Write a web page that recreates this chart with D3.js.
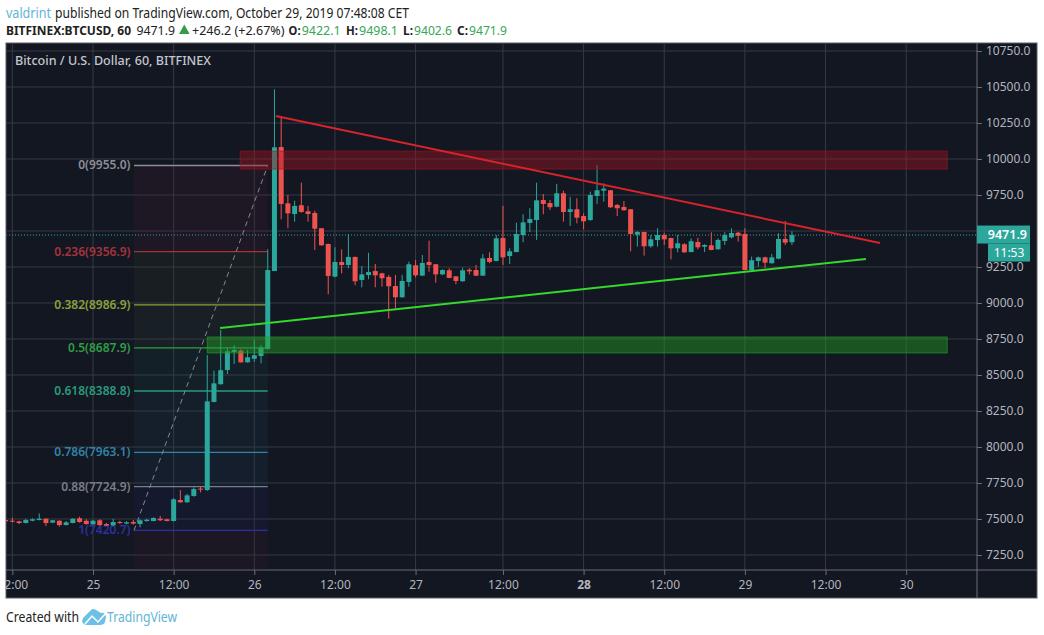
<!DOCTYPE html>
<html>
<head>
<meta charset="utf-8">
<script src="https://cdn.jsdelivr.net/npm/d3@7"></script>
<style>
  html, body { margin: 0; padding: 0; background: #fff; }
  svg { display: block; }
  text { font-family: "Noto Sans", "Open Sans", sans-serif; }
  .axis path { display: none; }
  .axis line { stroke: #6a6d78; }
  .axis text { fill: #b2b5be; font-size: 12px; }
</style>
</head>
<body>
<div id="chart"></div>
<script>
//===============================
//  Data
//===============================

// hour of each candle, counted in elapsed hours from Oct 25 00:00
var hours = d3.range(-13, 105);

var opens = [7493,7488,7484,7472,7488,7493,7502,7475,7488,7458,7472,7505,7488,7463,7491,7465,7456,7479,7468,7479,7465,7486,7486,7502,7498,7486,7632,7616,7660,7711,
  7701,8313,8436,8535,8660,8669,8588,8613,8632,8681,9222,10083,9692,9618,9679,9637,9625,9519,9410,9183,9285,9264,9320,9160,9194,9222,9206,9181,9118,9040,
  9146,9262,9190,9285,9269,9199,9227,9185,9151,9231,9229,9190,9313,9292,9451,9326,9354,9472,9556,9576,9715,9694,9669,9762,9632,9651,9604,9576,9743,9780,
  9783,9681,9667,9651,9474,9493,9394,9437,9472,9451,9380,9408,9354,9424,9391,9401,9373,9431,9456,9488,9479,9229,9292,9317,9276,9308,9445,9422.1];

var highs = [7498,7509,7488,7502,7505,7539,7505,7493,7491,7486,7505,7516,7498,7493,7498,7472,7502,7488,7486,7493,7498,7502,7512,7521,7502,7644,7701,7674,7720,7729,
  8639,8530,8813,8687,8708,8679,8674,8748,8708,9373,10484,10299,9750,9711,9835,9674,9641,9521,9412,9387,9373,9479,9322,9257,9349,9271,9210,9195,9195,9195,
  9287,9299,9333,9433,9271,9234,9241,9188,9245,9241,9264,9340,9352,9472,9674,9380,9558,9616,9658,9835,9757,9715,9826,9780,9736,9727,9623,9773,9958,9831,
  9785,9688,9708,9653,9500,9495,9472,9519,9488,9453,9472,9415,9449,9453,9408,9491,9449,9491,9519,9495,9519,9322,9322,9322,9340,9484,9570,9498.1];

var lows = [7479,7477,7465,7470,7484,7491,7451,7472,7447,7456,7470,7475,7461,7461,7454,7451,7451,7465,7463,7461,7442,7481,7484,7486,7484,7484,7613,7613,7655,7685,
  7695,8310,8433,8507,8576,8586,8586,8592,8581,8677,9222,9581,9519,9565,9627,9565,9368,9398,9060,9178,9206,9241,9123,9109,9165,9109,9113,8891,8963,9037,
  9113,9178,9187,9217,9141,9194,9172,9130,9148,9199,9187,9187,9276,9290,9264,9271,9352,9422,9493,9438,9616,9646,9665,9565,9535,9553,9512,9571,9688,9704,
  9660,9604,9641,9359,9391,9329,9384,9391,9403,9303,9352,9349,9352,9373,9354,9366,9370,9403,9449,9426,9227,9226,9252,9241,9274,9304,9403,9402.6];

var closes = [7484,7484,7472,7493,7498,7502,7472,7491,7458,7477,7502,7479,7465,7488,7458,7454,7479,7472,7477,7468,7491,7495,7507,7491,7486,7637,7616,7664,7708,7704,
  8317,8442,8533,8665,8674,8588,8623,8637,8688,9229,10081,9688,9623,9674,9632,9618,9516,9401,9188,9285,9264,9320,9151,9199,9215,9192,9172,9116,9040,9153,
  9269,9192,9278,9264,9199,9229,9174,9153,9227,9220,9190,9310,9285,9449,9317,9359,9479,9560,9583,9713,9688,9665,9762,9632,9651,9592,9567,9750,9783,9794,
  9665,9658,9644,9479,9493,9394,9442,9472,9442,9380,9415,9352,9429,9387,9403,9368,9438,9472,9486,9467,9229,9297,9317,9280,9317,9445,9419,9471.9];

// x axis
var xTickHours = [-12, 0, 12, 24, 36, 48, 61, 73, 85, 97, 109, 121];
var xTickLabels = ["12:00", "25", "12:00", "26", "12:00", "27", "12:00", "28", "12:00", "29", "12:00", "30"];

// y axis
var yTicks = [7250, 7500, 7750, 8000, 8250, 8500, 8750, 9000, 9250, 9500, 9750, 10000, 10250, 10500, 10750];
var lastPrice = 9471.9;

// fibonacci retracement
var fibRatios = ["0", "0.236", "0.382", "0.5", "0.618", "0.786", "0.88", "1"];
var fibPrices = [9955.0, 9356.9, 8986.9, 8687.9, 8388.8, 7963.1, 7724.9, 7420.7];
var fibColours = ["#8b8e97", "#a5333c", "#8ba03a", "#2f9e44", "#2a9a7c", "#2f84a8", "#7a7d86", "#2f2f9f"];
var fibBandColours = ["#5a2030", "#3a4028", "#33503a", "#1f5040", "#1f4a5a", "#204060", "#22226a", "#4a2030"];
var fibBandFloor = 7146;
var fibHours = [6.1, 26];

// support and resistance zones, [hour from, hour to, price top, price bottom]
var redZone = [21.9, 127.1, 10055, 9930];
var greenZone = [17, 127.1, 8764, 8653];

// triangle trend lines
var redLineHours = [27.2, 117.1];
var redLinePrices = [10299, 9417];
var greenLineHours = [18.9, 115];
var greenLinePrices = [8826, 9306];

// header text pieces: text, x, width, colour, weight
var headerLine1 = [
  ["valdrint", 6, 45, "#62b5d6", "normal"],
  ["published on TradingView.com, October 29, 2019 07:48:08 CET", 55, 354, "#222", "normal"]
];
var headerLine2 = [
  ["BITFINEX:BTCUSD, 60", 6, 125, "#222", "bold"],
  ["9471.9", 136.5, 38.5, "#222", "normal"],
  ["+246.2 (+2.67%)", 192, 92.5, "#222", "normal"],
  ["O:", 288.6, 12, "#222", "bold"],
  ["9422.1", 301.7, 39, "#3aa655", "normal"],
  ["H:", 346, 12, "#222", "bold"],
  ["9498.1", 359, 39, "#3aa655", "normal"],
  ["L:", 403, 10, "#222", "bold"],
  ["9402.6", 414, 38, "#3aa655", "normal"],
  ["C:", 457, 11, "#222", "bold"],
  ["9471.9", 469, 38, "#3aa655", "normal"]
];

//===============================
//  1.  Set up Charted Area
//===============================

var svgWidth = 1044;
var svgHeight = 635;

var plot = { left: 6, top: 43, right: 977, bottom: 570 };
var frameRight = 1037;
var frameBottom = 598;

var bg = "#131722";
var gridColour = "#363a45";
var upColour = "#2ba79c";
var downColour = "#ef5350";

var svg = d3.select("#chart")
  .append("svg")
  .attr("width", svgWidth)
  .attr("height", svgHeight);

// chart background with frame
svg.append("rect")
  .attr("x", plot.left)
  .attr("y", plot.top)
  .attr("width", frameRight - plot.left)
  .attr("height", frameBottom - plot.top)
  .attr("fill", bg)
  .attr("stroke", "#5d606b");

svg.append("clipPath").attr("id", "plotClip")
  .append("rect")
  .attr("x", plot.left)
  .attr("y", plot.top)
  .attr("width", plot.right - plot.left)
  .attr("height", plot.bottom - plot.top);

svg.append("clipPath").attr("id", "axisClip")
  .append("rect")
  .attr("x", plot.left)
  .attr("y", plot.bottom)
  .attr("width", plot.right - plot.left)
  .attr("height", frameBottom - plot.bottom);

// scales: 25 sits at x=93, 6.72px per hour; 36px per 250 usd
var xScale = d3.scaleLinear()
  .domain([0, 121])
  .range([93, 906.2]);

var yScale = d3.scaleLinear()
  .domain([7250, 10750])
  .range([555, 51]);

//===============================
//  2.  Grid and axes
//===============================

var gridGroup = svg.append("g").attr("clip-path", "url(#plotClip)");

gridGroup.selectAll(".hgrid")
  .data(yTicks)
  .enter()
  .append("line")
  .attr("x1", plot.left)
  .attr("x2", plot.right)
  .attr("y1", d => yScale(d))
  .attr("y2", d => yScale(d))
  .attr("stroke", gridColour);

gridGroup.selectAll(".vgrid")
  .data(xTickHours)
  .enter()
  .append("line")
  .attr("x1", d => xScale(d))
  .attr("x2", d => xScale(d))
  .attr("y1", plot.top)
  .attr("y2", plot.bottom)
  .attr("stroke", gridColour);

// the 9500 label sits under the last price badge, so it is left blank
var yAxis = d3.axisRight(yScale)
  .tickValues(yTicks)
  .tickSize(5)
  .tickPadding(4)
  .tickFormat(d => d === 9500 ? "" : d3.format(".1f")(d));

svg.append("g")
  .attr("class", "axis")
  .attr("transform", `translate(${plot.right}, 0)`)
  .call(yAxis);

var xAxis = d3.axisBottom(xScale)
  .tickValues(xTickHours)
  .tickSize(5)
  .tickPadding(5)
  .tickFormat((d, i) => xTickLabels[i]);

var xAxisGroup = svg.append("g")
  .attr("clip-path", "url(#axisClip)")
  .append("g")
  .attr("class", "axis")
  .attr("transform", `translate(0, ${plot.bottom})`)
  .call(xAxis);

// the 28 label is bold on the original
xAxisGroup.selectAll("text")
  .filter(d => d === 73)
  .attr("font-weight", "bold");

// axis borders
svg.append("line")
  .attr("x1", plot.right).attr("x2", plot.right)
  .attr("y1", plot.top).attr("y2", frameBottom)
  .attr("stroke", "#6a6d78");
svg.append("line")
  .attr("x1", plot.left).attr("x2", frameRight)
  .attr("y1", plot.bottom).attr("y2", plot.bottom)
  .attr("stroke", "#6a6d78");

//===============================
//  3.  Fibonacci retracement
//===============================

var plotGroup = svg.append("g").attr("clip-path", "url(#plotClip)");

var fibBandEdges = fibPrices.concat([fibBandFloor]);

plotGroup.selectAll(".fibBand")
  .data(fibBandColours)
  .enter()
  .append("rect")
  .attr("x", xScale(fibHours[0]))
  .attr("width", xScale(fibHours[1]) - xScale(fibHours[0]))
  .attr("y", (d, i) => yScale(fibBandEdges[i]))
  .attr("height", (d, i) => yScale(fibBandEdges[i + 1]) - yScale(fibBandEdges[i]))
  .attr("fill", d => d)
  .attr("opacity", 0.17);

plotGroup.selectAll(".fibLine")
  .data(fibPrices)
  .enter()
  .append("line")
  .attr("x1", xScale(fibHours[0]))
  .attr("x2", xScale(fibHours[1]))
  .attr("y1", d => yScale(d))
  .attr("y2", d => yScale(d))
  .attr("stroke", (d, i) => fibColours[i])
  .attr("stroke-width", 1.3);

// dashed trend of the fib tool
plotGroup.append("line")
  .attr("x1", xScale(fibHours[0]))
  .attr("y1", yScale(fibPrices[7]))
  .attr("x2", xScale(fibHours[1]))
  .attr("y2", yScale(fibPrices[0]))
  .attr("stroke", "#85888f")
  .attr("stroke-width", 1)
  .attr("stroke-dasharray", "5,4");

plotGroup.selectAll(".fibLabel")
  .data(fibPrices)
  .enter()
  .append("text")
  .attr("x", xScale(fibHours[0]) - 3.5)
  .attr("y", d => yScale(d) + 4)
  .attr("text-anchor", "end")
  .attr("font-size", "12px")
  .attr("font-weight", "600")
  .attr("fill", (d, i) => fibColours[i])
  .text((d, i) => `${fibRatios[i]}(${d.toFixed(1)})`);

//===============================
//  4.  Last price line and candles
//===============================

plotGroup.append("line")
  .attr("x1", plot.left)
  .attr("x2", plot.right)
  .attr("y1", yScale(lastPrice))
  .attr("y2", yScale(lastPrice))
  .attr("stroke", "#3fa69c")
  .attr("stroke-dasharray", "1,2");

var candles = plotGroup.selectAll(".candle")
  .data(hours)
  .enter()
  .append("g")
  .attr("class", "candle");

candles.append("line")
  .attr("x1", d => xScale(d))
  .attr("x2", d => xScale(d))
  .attr("y1", (d, i) => yScale(highs[i]))
  .attr("y2", (d, i) => yScale(lows[i]))
  .attr("stroke", (d, i) => closes[i] >= opens[i] ? upColour : downColour);

candles.append("rect")
  .attr("x", d => xScale(d) - 2.5)
  .attr("width", 5)
  .attr("y", (d, i) => yScale(Math.max(opens[i], closes[i])))
  .attr("height", (d, i) => Math.max(1, Math.abs(yScale(opens[i]) - yScale(closes[i]))))
  .attr("fill", (d, i) => closes[i] >= opens[i] ? upColour : downColour);

//===============================
//  5.  Zones and trend lines
//===============================

function drawZone(zone, fill, stroke) {
  plotGroup.append("rect")
    .attr("x", xScale(zone[0]))
    .attr("width", xScale(zone[1]) - xScale(zone[0]))
    .attr("y", yScale(zone[2]))
    .attr("height", yScale(zone[3]) - yScale(zone[2]))
    .attr("fill", fill)
    .attr("stroke", stroke);
}

drawZone(redZone, "rgba(165, 20, 30, 0.42)", "rgba(165, 20, 30, 0.6)");
drawZone(greenZone, "rgba(35, 160, 35, 0.45)", "rgba(35, 160, 35, 0.65)");

function drawTrend(xs, ys, colour) {
  plotGroup.append("line")
    .attr("x1", xScale(xs[0]))
    .attr("y1", yScale(ys[0]))
    .attr("x2", xScale(xs[1]))
    .attr("y2", yScale(ys[1]))
    .attr("stroke", colour)
    .attr("stroke-width", 2);
}

drawTrend(redLineHours, redLinePrices, "#d8232a");
drawTrend(greenLineHours, greenLinePrices, "#35d82c");

plotGroup.append("text")
  .attr("x", 15)
  .attr("y", 65)
  .attr("font-size", "12.5px")
  .attr("font-weight", "500")
  .attr("fill", "#c3c6ce")
  .attr("textLength", 196)
  .attr("lengthAdjust", "spacingAndGlyphs")
  .text("Bitcoin / U.S. Dollar, 60, BITFINEX");

//===============================
//  6.  Last price badges
//===============================

svg.append("rect")
  .attr("x", plot.right)
  .attr("y", yScale(lastPrice) - 9.5)
  .attr("width", 53)
  .attr("height", 18)
  .attr("fill", upColour);

svg.append("text")
  .attr("x", 1027)
  .attr("y", yScale(lastPrice) + 4)
  .attr("text-anchor", "end")
  .attr("font-size", "12.5px")
  .attr("font-weight", "600")
  .attr("fill", "#fff")
  .text(lastPrice.toFixed(1));

svg.append("rect")
  .attr("x", 988)
  .attr("y", yScale(lastPrice) + 8.5)
  .attr("width", 42)
  .attr("height", 18)
  .attr("fill", upColour);

svg.append("text")
  .attr("x", 1009)
  .attr("y", yScale(lastPrice) + 22)
  .attr("text-anchor", "middle")
  .attr("font-size", "12px")
  .attr("fill", "#fff")
  .text("11:53");

//===============================
//  7.  Header and footer text
//===============================

function drawHeader(pieces, baseline, fontSize) {
  svg.selectAll(null)
    .data(pieces)
    .enter()
    .append("text")
    .attr("x", d => d[1])
    .attr("y", baseline)
    .attr("textLength", d => d[2])
    .attr("lengthAdjust", "spacingAndGlyphs")
    .attr("font-size", fontSize)
    .attr("fill", d => d[3])
    .attr("font-weight", d => d[4])
    .text(d => d[0]);
}

drawHeader(headerLine1, 18, "13.5px");
drawHeader(headerLine2, 34.5, "12px");

// little up arrow in the header
svg.append("path")
  .attr("d", "M179 34 L184.3 24.5 L189.6 34 Z")
  .attr("fill", "#2f9e44");

svg.append("text")
  .attr("x", 6)
  .attr("y", 622)
  .attr("font-size", "14px")
  .attr("fill", "#222")
  .attr("textLength", 73)
  .attr("lengthAdjust", "spacingAndGlyphs")
  .text("Created with");

// tradingview cloud logo
svg.append("path")
  .attr("d", "M82 621 Q82 618 85 616 L91 610 Q93 608 96 610 L101 613 Q105 612 106 617 L105 622 Q104 625 100 625 L87 625 Q83 625 82 621 Z")
  .attr("fill", "#6cc0e6");
svg.append("path")
  .attr("d", "M85 624 L92 616 L98 622 L106 613")
  .attr("fill", "none")
  .attr("stroke", "#fff")
  .attr("stroke-width", 1.5);

svg.append("text")
  .attr("x", 107)
  .attr("y", 622)
  .attr("font-size", "14px")
  .attr("fill", "#62b5d6")
  .attr("textLength", 70)
  .attr("lengthAdjust", "spacingAndGlyphs")
  .text("TradingView");
</script>
</body>
</html>
